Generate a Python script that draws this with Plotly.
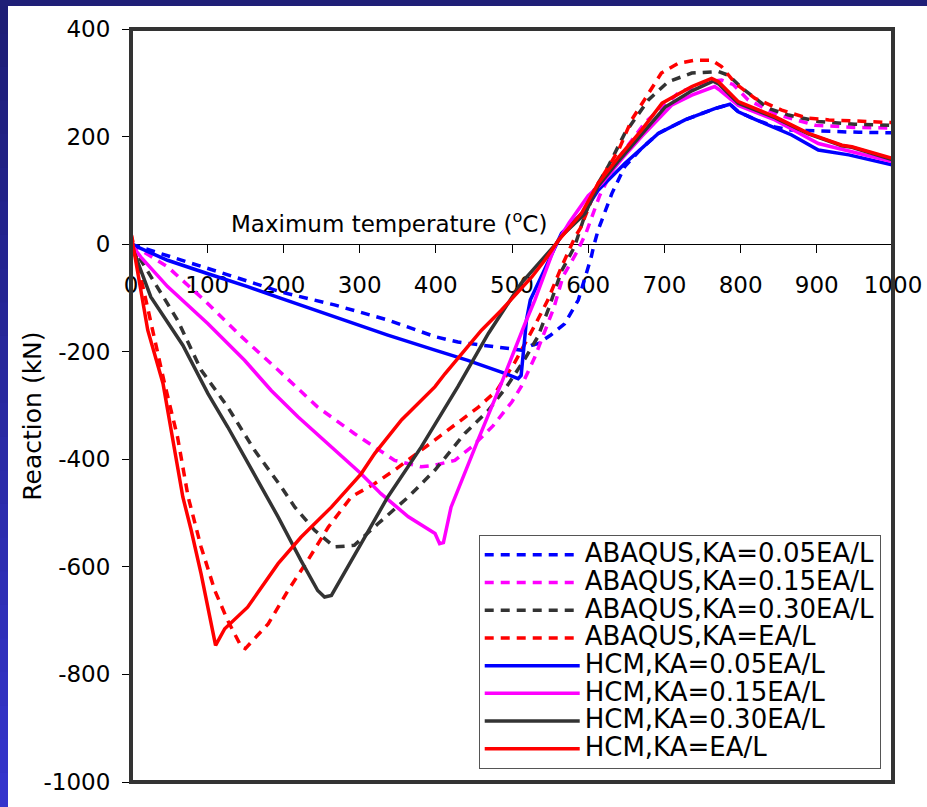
import plotly.graph_objects as go

# ---------------- data ----------------
names = [
    "ABAQUS,KA=0.05EA/L", "ABAQUS,KA=0.15EA/L", "ABAQUS,KA=0.30EA/L", "ABAQUS,KA=EA/L",
    "HCM,KA=0.05EA/L", "HCM,KA=0.15EA/L", "HCM,KA=0.30EA/L", "HCM,KA=EA/L",
]

abq_005_T = [0, 61, 136, 197, 267, 337, 399, 429, 470, 499, 512, 526, 534, 550, 569, 587, 597, 604, 607, 613, 631, 648, 670, 692, 727, 766, 786, 797, 819, 845, 866, 900, 955, 1000]
abq_005_R = [0, -27, -61, -89, -113, -141, -172, -182, -190, -196, -197, -188, -185, -170, -148, -104, -60, -24, -5, 26, 94, 144, 178, 206, 231, 252, 260, 246, 232, 218, 212, 210, 208, 207]

abq_015_T = [0, 48, 96, 145, 193, 245, 293, 346, 381, 399, 425, 447, 475, 500, 512, 530, 555, 567, 585, 597, 615, 640, 675, 720, 760, 775, 790, 810, 850, 898, 950, 1000]
abq_015_R = [0, -42, -104, -172, -234, -303, -352, -402, -414, -411, -402, -377, -338, -293, -265, -210, -118, -60, -15, 20, 90, 160, 227, 283, 302, 305, 297, 268, 240, 221, 217, 216]

abq_030_T = [0, 35, 61, 92, 127, 162, 197, 215, 241, 267, 293, 324, 364, 399, 438, 469, 493, 517, 534, 548, 565, 582, 605, 626, 648, 679, 705, 736, 771, 784, 802, 837, 863, 902, 950, 1000]
abq_030_R = [0, -82, -141, -234, -303, -383, -451, -489, -532, -563, -560, -520, -470, -420, -352, -309, -265, -213, -172, -120, -50, -5, 94, 144, 206, 268, 302, 318, 321, 314, 290, 252, 240, 228, 223, 221]

abq_100_T = [0, 22, 44, 61, 75, 92, 110, 127, 145, 150, 180, 206, 232, 259, 289, 320, 346, 381, 416, 456, 480, 504, 530, 547, 565, 583, 590, 613, 640, 657, 675, 696, 718, 740, 762, 775, 793, 819, 854, 889, 916, 1000]
abq_100_R = [20, -123, -259, -358, -470, -563, -644, -700, -749, -752, -706, -644, -588, -526, -470, -445, -420, -383, -346, -303, -272, -219, -151, -104, -42, 14, 30, 113, 175, 231, 271, 318, 336, 342, 342, 330, 299, 271, 249, 234, 231, 226]

hcm_005_T = [0, 48, 101, 153, 197, 267, 337, 399, 442, 486, 508, 512, 515, 519, 524, 540, 556, 565, 596, 613, 648, 670, 692, 727, 766, 786, 797, 819, 867, 902, 942, 1000]
hcm_005_R = [0, -30, -55, -79, -101, -135, -169, -197, -216, -238, -250, -244, -197, -141, -104, -55, -5, 20, 63, 100, 150, 178, 206, 231, 252, 260, 246, 232, 203, 175, 166, 147]

hcm_015_T = [0, 13, 48, 101, 149, 184, 219, 258, 302, 328, 364, 399, 405, 410, 420, 456, 486, 517, 530, 556, 575, 600, 618, 645, 670, 710, 736, 766, 771, 797, 845, 902, 1000]
hcm_015_R = [0, -24, -79, -148, -216, -272, -321, -371, -427, -464, -507, -538, -557, -555, -489, -362, -259, -148, -104, -5, 40, 90, 113, 160, 200, 259, 277, 293, 288, 258, 231, 187, 153]

hcm_030_T = [0, 26, 68, 101, 127, 158, 193, 223, 245, 254, 263, 302, 337, 381, 429, 469, 512, 558, 565, 596, 613, 640, 670, 701, 736, 764, 771, 797, 815, 845, 889, 933, 946, 1000]
hcm_030_R = [0, -98, -188, -278, -340, -420, -507, -588, -644, -656, -653, -557, -470, -377, -265, -166, -73, 1, 15, 57, 108, 155, 203, 255, 285, 303, 298, 262, 252, 235, 205, 183, 180, 157]

hcm_100_T = [0, 22, 42, 53, 68, 79, 92, 111, 123, 153, 193, 223, 263, 302, 320, 355, 399, 412, 460, 486, 526, 543, 561, 591, 613, 640, 670, 697, 736, 762, 771, 797, 815, 845, 889, 933, 946, 1000]
hcm_100_R = [20, -160, -259, -346, -470, -532, -613, -746, -715, -675, -594, -545, -489, -427, -389, -327, -265, -241, -160, -123, -61, -30, 7, 57, 113, 162, 212, 262, 293, 308, 302, 265, 255, 237, 206, 184, 181, 159]

series_T = [abq_005_T, abq_015_T, abq_030_T, abq_100_T, hcm_005_T, hcm_015_T, hcm_030_T, hcm_100_T]
series_R = [abq_005_R, abq_015_R, abq_030_R, abq_100_R, hcm_005_R, hcm_015_R, hcm_030_R, hcm_100_R]
colors = ["#0000ff", "#ff00ff", "#333333", "#ff0000"] * 2
dashes = ["9px,7px"] * 4 + ["solid"] * 4

x_ticks = [0, 100, 200, 300, 400, 500, 600, 700, 800, 900, 1000]
y_ticks = [400, 200, 0, -200, -400, -600, -800, -1000]

# ---------------- figure ----------------
W, H = 934, 807
ML, MR, MT, MB = 131, 36, 29, 25
PW, PH = W - ML - MR, H - MT - MB


def px_x(p):
    return (p - ML) / PW


def px_y(p):
    return (H - MB - p) / PH


FONT = "DejaVu Sans"

fig = go.Figure()
for T, R, c, d, n in zip(series_T, series_R, colors, dashes, names):
    fig.add_trace(go.Scatter(
        x=T, y=R, mode="lines",
        name='<span style="font-size:26px">' + n + "</span>",
        line=dict(color=c, width=3.5, dash=d)))

ymin, ymax = -1000, 400
fig.update_layout(
    width=W, height=H,
    margin=dict(l=ML, r=MR, t=MT, b=MB, pad=0),
    paper_bgcolor="white", plot_bgcolor="white",
    font=dict(family=FONT, size=23, color="black"),
    showlegend=True,
    legend=dict(x=px_x(481), y=px_y(535), xanchor="left", yanchor="top",
                bgcolor="white", bordercolor="#555555", borderwidth=1,
                font=dict(family=FONT, size=19, color="black"),
                itemwidth=95, tracegroupgap=0),
    xaxis=dict(range=[0, 1000], tickvals=x_ticks, ticktext=[str(v) for v in x_ticks],
               showgrid=False, zeroline=False, showline=True, linecolor="black", linewidth=1,
               ticks="outside", ticklen=8, tickwidth=1, tickcolor="black",
               anchor="free", position=(0 - ymin) / (ymax - ymin),
               ticklabelstandoff=12,
               layer="below traces", tickfont=dict(family=FONT, size=23)),
    yaxis=dict(range=[ymin, ymax], tickvals=y_ticks, ticktext=[str(v) for v in y_ticks],
               showgrid=False, zeroline=False, showline=False,
               ticks="outside", ticklen=8, tickwidth=1, tickcolor="black",
               ticklabelstandoff=7,
               layer="below traces", tickfont=dict(family=FONT, size=23)),
)

# axis titles
fig.add_annotation(text="Maximum temperature (<sup>o</sup>C)", x=338, y=41, xref="x", yref="y",
                   showarrow=False, xanchor="center", yanchor="middle",
                   font=dict(family=FONT, size=23, color="black"))
fig.add_annotation(text="Reaction (kN)", textangle=-90, x=px_x(31), y=px_y(416),
                   xref="paper", yref="paper", showarrow=False,
                   xanchor="center", yanchor="middle",
                   font=dict(family=FONT, size=25, color="black"))

# slide background strips (decoration), sized in pixels from the plot edges
nb = 24
band = H / nb
for i in range(nb):
    f = i / (nb - 1)
    r = int(0x1e + (0x34 - 0x1e) * f)
    b = int(0x76 + (0xcc - 0x76) * f)
    col = "#%02x%02x%02x" % (r, r, b)
    top = max(0.0, i * band - 0.5)
    bot = min(float(H), (i + 1) * band + 0.5)
    fig.add_shape(type="rect", xref="paper", yref="paper",
                  xsizemode="pixel", xanchor=0, x0=-ML, x1=-ML + 8,
                  y0=px_y(bot), y1=px_y(top),
                  fillcolor=col, line=dict(width=0), layer="above")
fig.add_shape(type="rect", xref="paper", yref="paper",
              xsizemode="pixel", xanchor=1, x0=-1500, x1=MR,
              ysizemode="pixel", yanchor=1, y0=MT - 6, y1=MT,
              fillcolor="#1f1f77", line=dict(width=0), layer="above")

# plot frame
fig.add_shape(type="rect", xref="paper", yref="paper", x0=0, x1=1, y0=0, y1=1,
              line=dict(color="#333333", width=4), fillcolor="rgba(0,0,0,0)", layer="above")

fig.write_html("out.html", config={"displayModeBar": False})
